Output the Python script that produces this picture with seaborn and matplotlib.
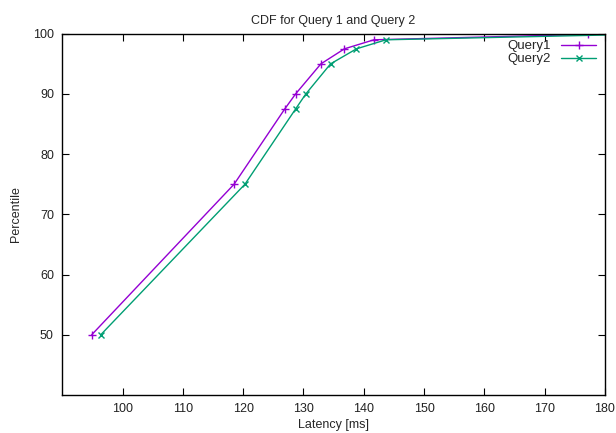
import matplotlib
matplotlib.use("Agg")
import matplotlib.pyplot as plt
import seaborn as sns
import pandas as pd

# Data
q1_latency = [94.9, 118.5, 126.9, 128.7, 132.9, 136.8, 141.7, 177.2]
q1_pct = [50, 75, 87.5, 90, 95, 97.5, 99, 99.9]
q2_latency = [96.4, 120.3, 128.7, 130.4, 134.5, 138.8, 143.7, 185.0]
q2_pct = [50, 75, 87.5, 90, 95, 97.5, 99, 99.9]
x_ticks = [100, 110, 120, 130, 140, 150, 160, 170, 180]
y_ticks = [50, 60, 70, 80, 90, 100]

sns.set_theme(style="white")
plt.rcParams['font.family'] = ['Liberation Sans', 'DejaVu Sans']

fig = plt.figure(figsize=(6.16, 4.33), dpi=100)
ax = fig.add_axes([0.101, 0.088, 0.881, 0.834])

df1 = pd.DataFrame({"Latency": q1_latency, "Percentile": q1_pct})
df2 = pd.DataFrame({"Latency": q2_latency, "Percentile": q2_pct})

c1 = "#9400D3"
c2 = "#009E73"
sns.lineplot(data=df1, x="Latency", y="Percentile", ax=ax, color=c1,
             marker="+", markersize=5.5, markeredgewidth=1.0, markeredgecolor=c1,
             linewidth=1.0, label="Query1", clip_on=True)
sns.lineplot(data=df2, x="Latency", y="Percentile", ax=ax, color=c2,
             marker="x", markersize=4.5, markeredgewidth=1.0, markeredgecolor=c2,
             linewidth=1.0, label="Query2", clip_on=True)

ax.set_xlim(90, 180)
ax.set_ylim(40, 100)
ax.set_xticks(x_ticks)
ax.set_yticks(y_ticks)
ax.set_xticklabels([str(t) for t in x_ticks], fontsize=9)
ax.set_yticklabels([str(t) for t in y_ticks], fontsize=9)
ax.tick_params(direction="in", length=5, width=0.8, top=True, right=True,
               bottom=True, left=True, colors="black", labelcolor="#222222", pad=6)
for s in ax.spines.values():
    s.set_color("black")
    s.set_linewidth(1.0)
ax.set_xlabel("Latency [ms]", fontsize=9, labelpad=3)
ax.set_ylabel("Percentile", fontsize=9, labelpad=8)
ax.set_title("CDF for Query 1 and Query 2", fontsize=9, pad=7)

leg = ax.legend(loc="upper right", frameon=False, markerfirst=False, fontsize=9.5,
                handlelength=2.6, borderaxespad=0.3, labelspacing=0.05,
                bbox_to_anchor=(1.0, 1.008))
for h in leg.legend_handles:
    h.set_markeredgecolor(h.get_color())

fig.savefig("out.png", dpi=100)
